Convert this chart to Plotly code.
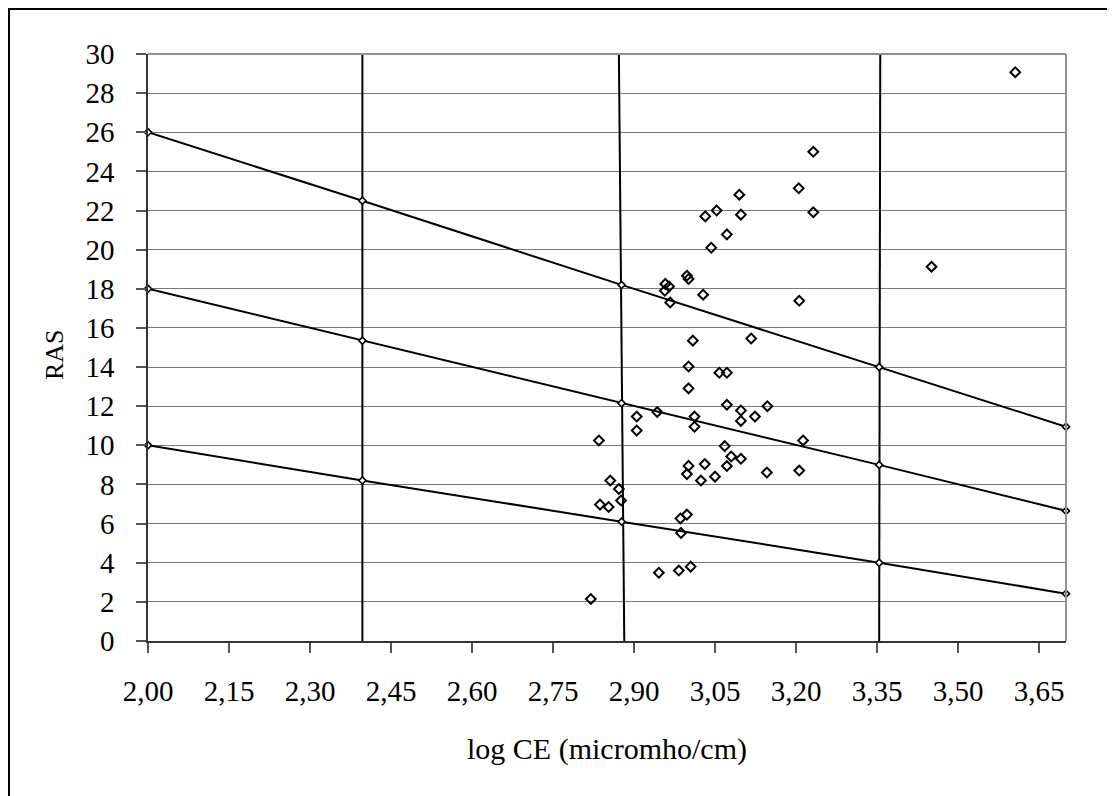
import plotly.graph_objects as go

# ---- data ----
sample_logce = [3.232, 3.205, 3.232, 3.095, 3.053, 3.032, 3.098, 3.072, 3.043,
                2.998, 3.001, 2.958, 2.965, 2.957, 3.028, 2.967, 3.206, 3.009,
                3.117, 3.001, 3.058, 3.072, 3.001, 3.072, 3.098, 3.147, 2.943,
                2.905, 3.012, 3.124, 3.098, 3.012, 2.905, 2.835, 3.213, 3.068,
                3.080, 3.098, 3.001, 3.031, 3.072, 3.146, 3.206, 2.998, 3.024,
                3.050, 2.856, 2.872, 2.876, 2.837, 2.853, 2.986, 2.998, 2.987,
                2.946, 2.983, 3.005, 2.820, 3.451, 3.606]
sample_ras = [25.0, 23.14, 21.91, 22.81, 22.0, 21.70, 21.79, 20.78, 20.10,
              18.67, 18.50, 18.25, 18.12, 17.90, 17.70, 17.30, 17.39, 15.35,
              15.46, 14.03, 13.71, 13.71, 12.91, 12.07, 11.78, 12.0, 11.70,
              11.47, 11.47, 11.47, 11.25, 10.95, 10.76, 10.25, 10.25, 9.96,
              9.43, 9.31, 8.95, 9.04, 8.94, 8.61, 8.71, 8.53, 8.20,
              8.40, 8.20, 7.77, 7.18, 6.97, 6.85, 6.26, 6.46, 5.52,
              3.49, 3.60, 3.80, 2.15, 19.13, 29.07]

# sodium hazard class boundaries
boundary_x = [2.00, 2.397, 2.877, 3.354, 3.70]
upper_ras = [26.0, 22.5, 18.2, 14.0, 10.95]
middle_ras = [18.0, 15.35, 12.15, 9.0, 6.65]
lower_ras = [10.0, 8.2, 6.1, 4.0, 2.42]

# salinity class boundaries (vertical lines): x at RAS=0 and RAS=30
salinity_x_bottom = [2.397, 2.882, 3.354]
salinity_x_top = [2.397, 2.872, 3.356]
ras_ends = [0, 30]

x_ticks = [2.00, 2.15, 2.30, 2.45, 2.60, 2.75, 2.90, 3.05, 3.20, 3.35, 3.50, 3.65]
y_ticks = list(range(0, 31, 2))

FONT = "Liberation Serif, Times New Roman, serif"

# figure geometry (page has an 8px body margin)
W, H = 1107, 788
ML, MR, MT, MB = 140, 49, 46, 155
PW, PH = W - ML - MR, H - MT - MB


def px_x(p):
    return (p - ML) / PW


def px_y(p):
    return (H - MB - p) / PH


fig = go.Figure()

for xb, xt in zip(salinity_x_bottom, salinity_x_top):
    fig.add_trace(go.Scatter(x=[xb, xt], y=ras_ends, mode="lines",
                             line=dict(color="black", width=2),
                             hoverinfo="skip", showlegend=False))

for ys in (upper_ras, middle_ras, lower_ras):
    fig.add_trace(go.Scatter(x=boundary_x, y=ys, mode="lines+markers",
                             line=dict(color="black", width=2),
                             marker=dict(symbol="diamond", size=5.5, color="white",
                                         line=dict(color="black", width=1.6)),
                             cliponaxis=False, showlegend=False))

fig.add_trace(go.Scatter(x=sample_logce, y=sample_ras, mode="markers",
                         marker=dict(symbol="diamond-open", size=7.5, color="black",
                                     line=dict(color="black", width=2)),
                         cliponaxis=False, showlegend=False))

fig.update_layout(
    width=W, height=H,
    margin=dict(l=ML, r=MR, t=MT, b=MB),
    paper_bgcolor="white", plot_bgcolor="white",
    separators=", ",
    font=dict(family=FONT, size=29, color="black"),
    xaxis=dict(range=[2.0, 3.70], tickvals=x_ticks,
               ticktext=[f"{v:.2f}".replace(".", ",") for v in x_ticks],
               showgrid=False, zeroline=False,
               showline=True, linecolor="#333333", linewidth=1.5,
               ticks="outside", ticklen=10, tickcolor="#555555", tickwidth=1.5,
               ticklabelstandoff=13,
               tickfont=dict(family=FONT, size=29),
               title=dict(text="log CE (micromho/cm)", standoff=32,
                          font=dict(family=FONT, size=30))),
    yaxis=dict(range=[0, 30], tickvals=y_ticks,
               showgrid=True, gridcolor="#7a7a7a", gridwidth=1.2,
               zeroline=False,
               showline=True, linecolor="#333333", linewidth=1.5,
               ticks="outside", ticklen=10, tickcolor="#555555", tickwidth=1.5,
               ticklabelstandoff=16,
               tickfont=dict(family=FONT, size=29)),
    annotations=[
        dict(text="RAS", xref="paper", yref="paper",
             x=px_x(54 - 8), y=px_y(355 - 8), xanchor="center", yanchor="middle",
             textangle=-90, showarrow=False,
             font=dict(family=FONT, size=26, color="black")),
    ],
    shapes=[
        dict(type="line", xref="paper", yref="paper", x0=1, x1=1, y0=0, y1=1,
             line=dict(color="#909090", width=2)),
        dict(type="line", xref="paper", yref="paper", x0=0, x1=1, y0=1, y1=1,
             line=dict(color="#909090", width=2)),
        dict(type="rect", xref="paper", yref="paper",
             x0=px_x(1), x1=px_x(1105.5),
             y0=px_y(H + 30), y1=px_y(1),
             line=dict(color="black", width=2), fillcolor="rgba(0,0,0,0)",
             layer="below"),
    ],
)

fig.write_html("out.html")
